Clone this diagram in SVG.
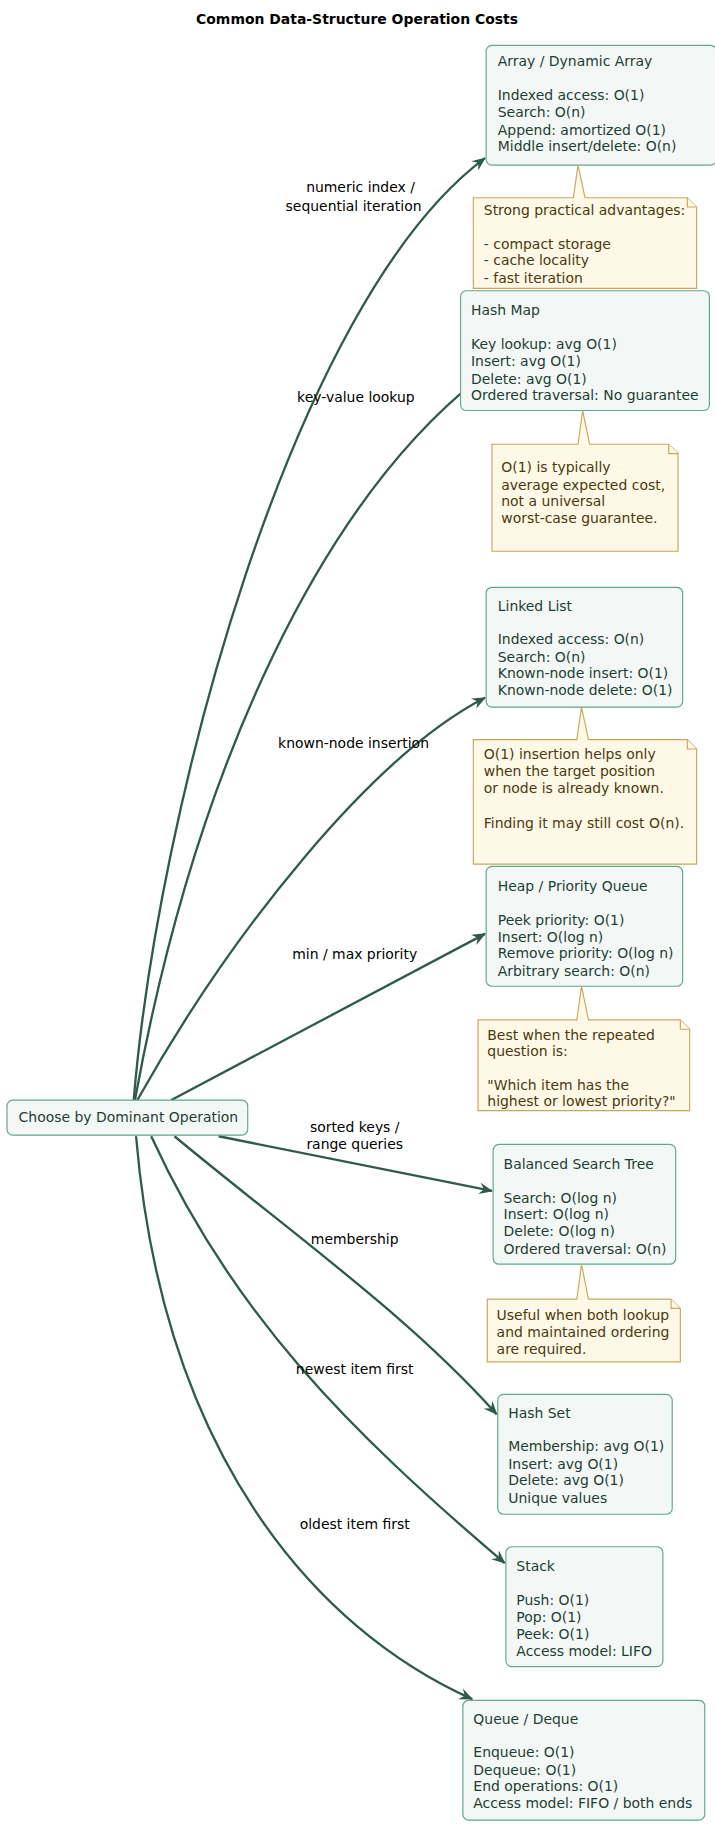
<svg xmlns="http://www.w3.org/2000/svg" width="715" height="1825" viewBox="0 0 715 1825">
<style>
text{font-family:"DejaVu Sans",sans-serif;font-size:12px}
.n rect{fill:#f3f8f6;stroke:#5fa88a;stroke-width:1}
.n text{fill:#1f3d33}
.nt path{fill:#fef8e6;stroke:#c8a860;stroke-width:1}
.nt text{fill:#4a3a10}
.e path{fill:none;stroke:#2f5a4c;stroke-width:2;marker-end:url(#a)}
.l{fill:#000;text-anchor:middle}
</style>
<defs><marker id="a" viewBox="0 0 12 10" refX="11" refY="5" markerWidth="12" markerHeight="10" markerUnits="userSpaceOnUse" orient="auto"><path d="M0,0 L12,5 L0,10 L4,5 Z" fill="#2f5a4c"/></marker></defs>
<rect width="715" height="1825" fill="#fff"/>
<g transform="scale(1.163)">
<text x="307" y="21" text-anchor="middle" font-weight="bold">Common Data-Structure Operation Costs</text>
<g class="e">
<path d="M115,946 C135,700 250,260 417,136"/>
<path d="M116,946 C170,650 280,430 411,326"/>
<path d="M118,946 C200,800 320,650 417,600"/>
<path d="M147,946 L417,803"/>
<path d="M188,977 L423,1024"/>
<path d="M150,977 C250,1060 350,1130 427,1216"/>
<path d="M130,977 C200,1130 300,1230 434,1344"/>
<path d="M117,977 C140,1250 270,1400 406,1461"/>
<text class="l" x="310" y="165">numeric index /</text><text class="l" x="304" y="181">sequential iteration</text>
<text class="l" x="306" y="346">key-value lookup</text>
<text class="l" x="304" y="643">known-node insertion</text>
<text class="l" x="305" y="825">min / max priority</text>
<text class="l" x="305" y="973">sorted keys /</text><text class="l" x="305" y="988">range queries</text>
<text class="l" x="305" y="1070">membership</text>
<text class="l" x="305" y="1181">newest item first</text>
<text class="l" x="305" y="1315">oldest item first</text>
</g>
<g id="root" class="n"><rect x="6" y="946" width="207" height="30" rx="5"/><text x="16" y="965">Choose by Dominant Operation</text></g>
<g id="array" class="n"><rect x="418" y="39" width="198" height="103" rx="5"/><text x="428" y="57">Array / Dynamic Array</text><text x="428" y="86">Indexed access: O(1)</text><text x="428" y="101">Search: O(n)</text><text x="428" y="116">Append: amortized O(1)</text><text x="428" y="130">Middle insert/delete: O(n)</text></g>
<g id="note1" class="nt"><path d="M407,170 H493 L497,142 L503,170 H591 L599,178 V248 H407 Z"/><path d="M591,170 V178 H599"/><text x="416" y="185">Strong practical advantages:</text><text x="416" y="214">- compact storage</text><text x="416" y="228">- cache locality</text><text x="416" y="243">- fast iteration</text></g>
<g id="hashmap" class="n"><rect x="396" y="250" width="214" height="103" rx="5"/><text x="405" y="271">Hash Map</text><text x="405" y="300">Key lookup: avg O(1)</text><text x="405" y="315">Insert: avg O(1)</text><text x="405" y="330">Delete: avg O(1)</text><text x="405" y="344">Ordered traversal: No guarantee</text></g>
<g id="note2" class="nt"><path d="M423,382 H497 L501,353 L507,382 H575 L583,390 V474 H423 Z"/><path d="M575,382 V390 H583"/><text x="431" y="406">O(1) is typically</text><text x="431" y="421">average expected cost,</text><text x="431" y="435">not a universal</text><text x="431" y="450">worst-case guarantee.</text></g>
<g id="linked" class="n"><rect x="418" y="505" width="169" height="103" rx="5"/><text x="428" y="525">Linked List</text><text x="428" y="554">Indexed access: O(n)</text><text x="428" y="569">Search: O(n)</text><text x="428" y="583">Known-node insert: O(1)</text><text x="428" y="598">Known-node delete: O(1)</text></g>
<g id="note3" class="nt"><path d="M407,636 H496 L500,608 L506,636 H591 L599,644 V743 H407 Z"/><path d="M591,636 V644 H599"/><text x="416" y="653">O(1) insertion helps only</text><text x="416" y="667">when the target position</text><text x="416" y="682">or node is already known.</text><text x="416" y="712">Finding it may still cost O(n).</text></g>
<g id="heap" class="n"><rect x="418" y="745" width="169" height="103" rx="5"/><text x="428" y="766">Heap / Priority Queue</text><text x="428" y="795">Peek priority: O(1)</text><text x="428" y="810">Insert: O(log n)</text><text x="428" y="824">Remove priority: O(log n)</text><text x="428" y="839">Arbitrary search: O(n)</text></g>
<g id="note4" class="nt"><path d="M411,877 H496 L500,848 L506,877 H585 L593,885 V955 H411 Z"/><path d="M585,877 V885 H593"/><text x="419" y="894">Best when the repeated</text><text x="419" y="908">question is:</text><text x="419" y="937">"Which item has the</text><text x="419" y="951">highest or lowest priority?"</text></g>
<g id="bst" class="n"><rect x="424" y="984" width="157" height="103" rx="5"/><text x="433" y="1005">Balanced Search Tree</text><text x="433" y="1034">Search: O(log n)</text><text x="433" y="1048">Insert: O(log n)</text><text x="433" y="1063">Delete: O(log n)</text><text x="433" y="1078">Ordered traversal: O(n)</text></g>
<g id="note5" class="nt"><path d="M419,1117 H496 L500,1087 L506,1117 H577 L585,1125 V1171 H419 Z"/><path d="M577,1117 V1125 H585"/><text x="427" y="1135">Useful when both lookup</text><text x="427" y="1150">and maintained ordering</text><text x="427" y="1164">are required.</text></g>
<g id="hashset" class="n"><rect x="428" y="1199" width="150" height="103" rx="5"/><text x="437" y="1219">Hash Set</text><text x="437" y="1248">Membership: avg O(1)</text><text x="437" y="1263">Insert: avg O(1)</text><text x="437" y="1277">Delete: avg O(1)</text><text x="437" y="1292">Unique values</text></g>
<g id="stack" class="n"><rect x="435" y="1330" width="135" height="103" rx="5"/><text x="444" y="1351">Stack</text><text x="444" y="1380">Push: O(1)</text><text x="444" y="1395">Pop: O(1)</text><text x="444" y="1409">Peek: O(1)</text><text x="444" y="1424">Access model: LIFO</text></g>
<g id="queue" class="n"><rect x="398" y="1462" width="208" height="103" rx="5"/><text x="407" y="1482">Queue / Deque</text><text x="407" y="1511">Enqueue: O(1)</text><text x="407" y="1526">Dequeue: O(1)</text><text x="407" y="1540">End operations: O(1)</text><text x="407" y="1555">Access model: FIFO / both ends</text></g>
</g>
</svg>
